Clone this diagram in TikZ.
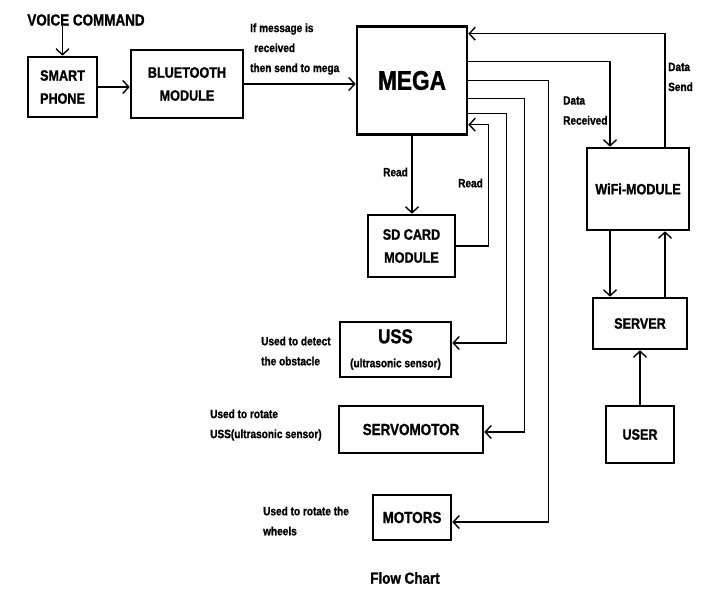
\documentclass[tikz,border=0pt]{standalone}
\usepackage{fontspec}
\setmainfont{Liberation Sans}[FakeStretch=0.84, BoldFeatures={FakeBold=1.2}]
\usepackage{tikz}
\usetikzlibrary{arrows.meta}
\newcommand\BoxFont{\bfseries\fontsize{15}{23}\selectfont}
\newcommand\LblFont{\bfseries\fontsize{12}{20}\selectfont}

\begin{document}
\begin{tikzpicture}[x=1pt, y=-1pt,
    block/.style = {draw, line width=2.6pt, inner sep=0pt, align=center, font=\BoxFont},
    lbl/.style = {inner sep=0pt, align=left, anchor=west, font=\LblFont},
    arr/.style = {line width=1.4pt, -{Straight Barb[length=6pt, width=13pt, line width=1.4pt]}}]
                \useasboundingbox (0,0) rectangle (705,589);

                % blocks
                \node [font=\bfseries\fontsize{16}{18}\selectfont, inner sep=0pt] at (86,20) (voice) {VOICE COMMAND};
                \node [block, minimum width=69pt, minimum height=60pt] at (62.5,87) (phone) {SMART\\PHONE};
                \node [block, minimum width=112pt, minimum height=68pt] at (187,84) (bt) {BLUETOOTH\\MODULE};
                \node [block, minimum width=110pt, minimum height=108pt, font=\bfseries\fontsize{27}{28}\selectfont] at (412,80.5) (mega) {MEGA};
                \node [block, minimum width=87pt, minimum height=62pt] at (411.5,246) (sd) {SD CARD\\MODULE};
                \node [block, minimum width=102pt, minimum height=82pt] at (638,189) (wifi) {WiFi-MODULE};
                \node [block, minimum width=94pt, minimum height=51pt] at (640,323.5) (server) {SERVER};
                \node [block, minimum width=68pt, minimum height=57pt] at (640,434.5) (user) {USER};
                \node [block, minimum width=111pt, minimum height=55pt] at (395.5,349.5) (uss)
                      {{\fontsize{20}{20}\selectfont USS}\\[1pt]{\fontsize{12}{14}\selectfont (ultrasonic sensor)}};
                \node [block, minimum width=144pt, minimum height=47pt, font=\bfseries\fontsize{16}{18}\selectfont] at (411,429.5) (servo) {SERVOMOTOR};
                \node [block, minimum width=78pt, minimum height=45pt, font=\bfseries\fontsize{16}{18}\selectfont] at (412,517.5) (motors) {MOTORS};

                % labels
                \node [lbl] at (250,49) (msg) {If message is\\\hspace{4pt}received\\then send to mega};
                \node [lbl] at (668,77) (dsend) {Data\\Send};
                \node [lbl] at (563,110.5) (drecv) {Data\\Received};
                \node [lbl] at (383,172) (read1) {Read};
                \node [lbl] at (458,183) (read2) {Read};
                \node [lbl] at (261,351) (ussnote) {Used to detect\\the obstacle};
                \node [lbl] at (210,425) (servonote) {Used to rotate\\USS(ultrasonic sensor)};
                \node [lbl] at (263,521) (motornote) {Used to rotate the\\wheels};
                \node [font=\bfseries\fontsize{16}{18}\selectfont, inner sep=0pt] at (405,578) (title) {Flow Chart};

                % connectors
                \draw [arr] (phone.north |- voice.south) -- (phone.north);
                \draw [arr] (phone.east) -- (phone.east -| bt.west);
                \draw [arr] (bt.east) -- (bt.east -| mega.west);
                \draw [arr] (mega.south) -- (mega.south |- sd.north);
                \draw [arr] (sd.east) -- ++(32,0) |- ([yshift=-99.5pt]mega.north east);
                \draw [arr] ([xshift=27pt]wifi.north) |- ([yshift=-8.5pt]mega.north east);
                \draw [arr] ([yshift=-36pt]mega.north east) -| ([xshift=-28pt]wifi.north);
                \draw [arr] ([yshift=-88.5pt]mega.north east) -| ([xshift=54pt,yshift=6.5pt]uss.east) -- ([yshift=6.5pt]uss.east);
                \draw [arr] ([yshift=-73.5pt]mega.north east) -| ([xshift=40pt,yshift=-2.5pt]servo.east) -- ([yshift=-2.5pt]servo.east);
                \draw [arr] ([yshift=-55pt]mega.north east) -| ([xshift=96pt,yshift=-4.5pt]motors.east) -- ([yshift=-4.5pt]motors.east);
                \draw [arr] ([xshift=-28pt]wifi.south) -- ([xshift=-28pt]wifi.south |- server.north);
                \draw [arr] ([xshift=25pt]server.north) -- ([xshift=25pt]server.north |- wifi.south);
                \draw [arr] (user.north) -- (server.south);
\end{tikzpicture}
\end{document}
